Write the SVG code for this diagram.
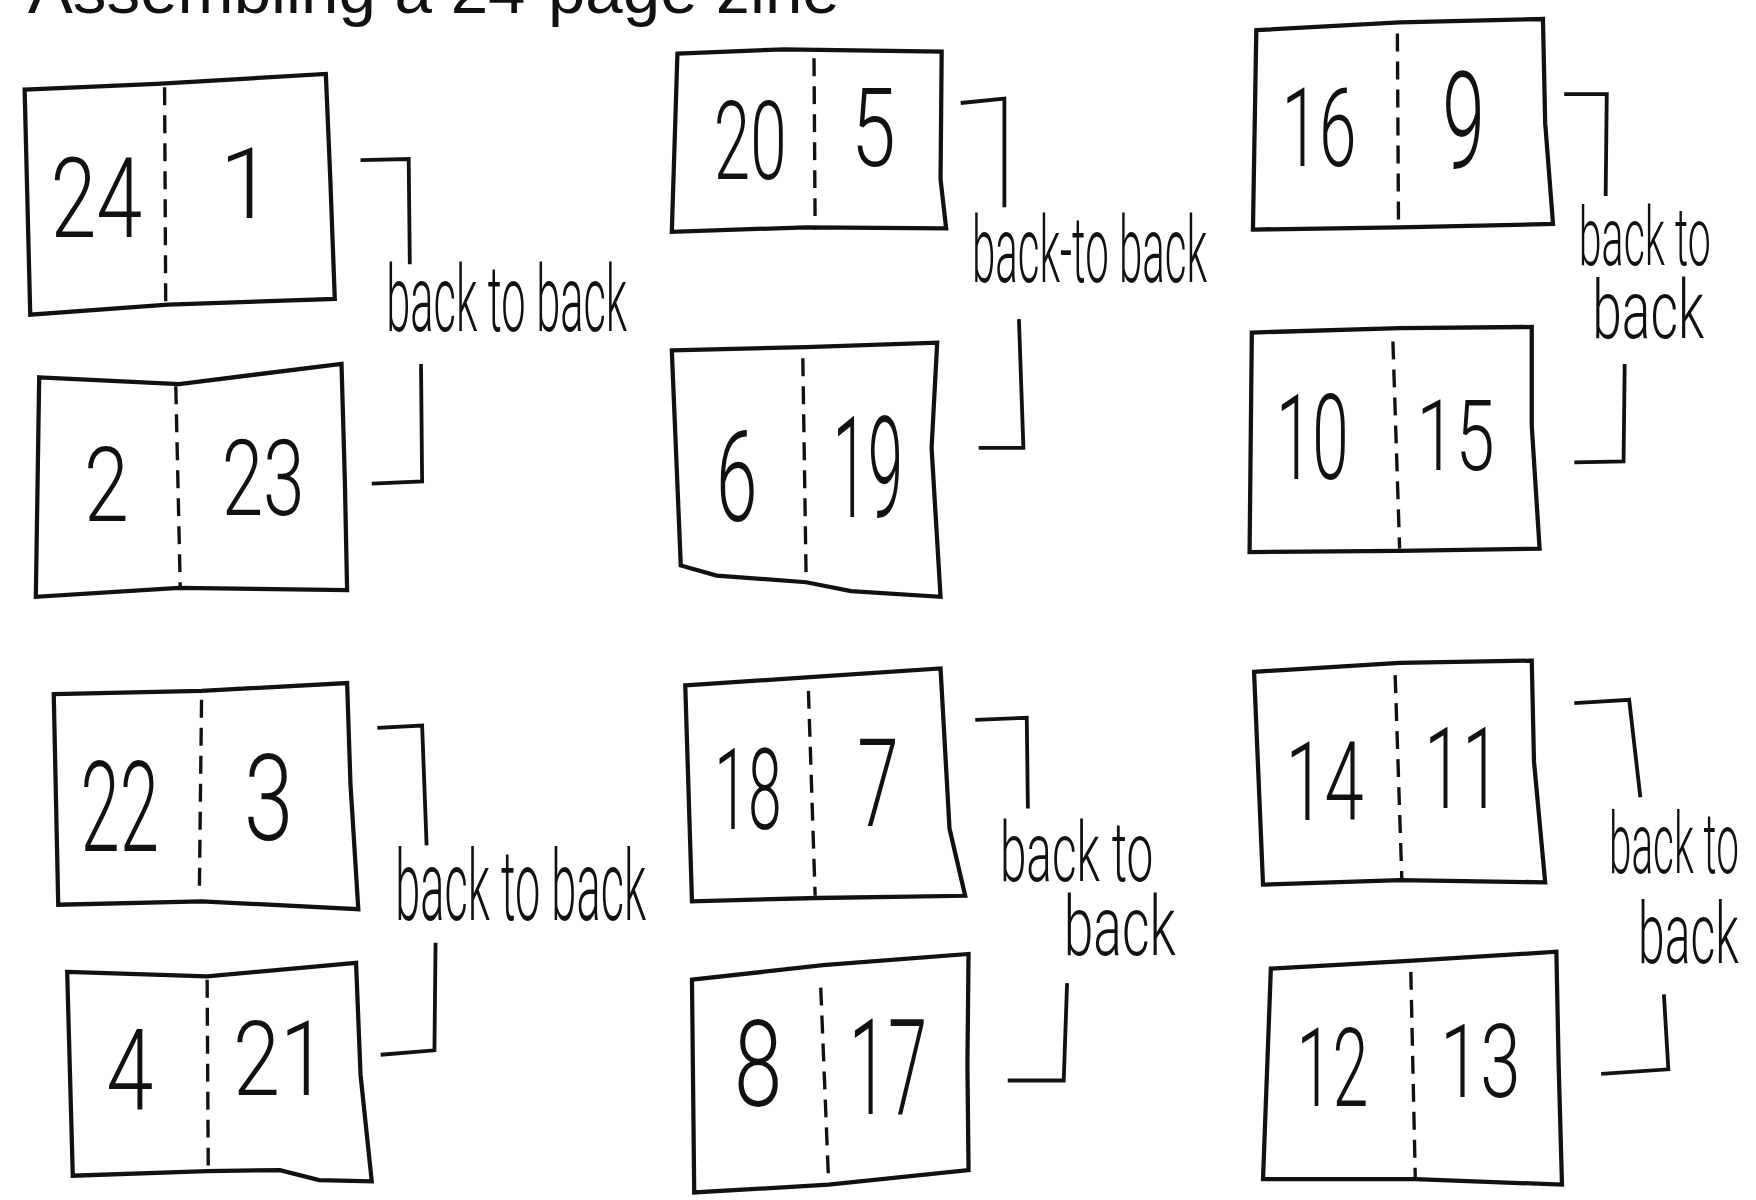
<svg xmlns="http://www.w3.org/2000/svg" width="1756" height="1200" viewBox="0 0 1756 1200">
<style>
.sheet{fill:#fff;stroke:#111;stroke-width:3.8;stroke-linejoin:miter}
.fold{fill:none;stroke:#111;stroke-width:3;stroke-dasharray:16 9}
.num{font-family:Roboto,"Liberation Sans",sans-serif;font-weight:300;fill:#111;text-anchor:middle}
.lbl{font-family:Roboto,"Liberation Sans",sans-serif;font-weight:300;fill:#111}
.br{fill:none;stroke:#111;stroke-width:3.4}
.title{font-family:"Liberation Sans",Arial,sans-serif;fill:#111}
</style>
<rect x="0" y="0" width="1756" height="1200" fill="#fff"/>
<g transform="scale(1.1197)">
<text class="title" x="25" y="12" font-size="60" textLength="725" lengthAdjust="spacingAndGlyphs">Assembling a 24-page zine</text>

<g id="sheet-24-1">
<path class="sheet" d="M22,80 L140,75 L291,66 L295,160 L299,267 L150,272 L27,281 Z"/>
<path class="fold" d="M147,78 L148,272"/>
<text class="num" x="86" y="212" font-size="100" textLength="82" lengthAdjust="spacingAndGlyphs">24</text>
<text class="num" x="220" y="195" font-size="88" textLength="48" lengthAdjust="spacingAndGlyphs">1</text>
</g>
<g id="sheet-2-23">
<path class="sheet" d="M35,337 L160,343 L305,325 L308,430 L310,527 L160,525 L32,533 Z"/>
<path class="fold" d="M157,345 L161,525"/>
<text class="num" x="95" y="465" font-size="92" textLength="40" lengthAdjust="spacingAndGlyphs">2</text>
<text class="num" x="235" y="460" font-size="94" textLength="74" lengthAdjust="spacingAndGlyphs">23</text>
</g>
<g id="sheet-20-5">
<path class="sheet" d="M605,48 L700,44 L841,46 L840,160 L845,204 L720,203 L600,207 Z"/>
<path class="fold" d="M727,52 L728,205"/>
<text class="num" x="670" y="160" font-size="98" textLength="65" lengthAdjust="spacingAndGlyphs">20</text>
<text class="num" x="780" y="148" font-size="98" textLength="40" lengthAdjust="spacingAndGlyphs">5</text>
</g>
<g id="sheet-6-19">
<path class="sheet" d="M600,313 L720,310 L837,306 L832,400 L840,533 L760,528 L720,520 L640,514 L608,505 Z"/>
<path class="fold" d="M717,320 L720,520"/>
<text class="num" x="658" y="465" font-size="112" textLength="37" lengthAdjust="spacingAndGlyphs">6</text>
<text class="num" x="775" y="462" font-size="126" textLength="63" lengthAdjust="spacingAndGlyphs">19</text>
</g>
<g id="sheet-16-9">
<path class="sheet" d="M1122,27 L1250,20 L1378,17 L1380,110 L1387,200 L1250,203 L1119,205 Z"/>
<path class="fold" d="M1248,30 L1249,203"/>
<text class="num" x="1178" y="148" font-size="98" textLength="67" lengthAdjust="spacingAndGlyphs">16</text>
<text class="num" x="1307" y="150" font-size="121" textLength="38" lengthAdjust="spacingAndGlyphs">9</text>
</g>
<g id="sheet-10-15">
<path class="sheet" d="M1118,297 L1250,293 L1368,292 L1368,380 L1375,490 L1250,492 L1116,493 Z"/>
<path class="fold" d="M1244,305 L1250,490"/>
<text class="num" x="1172" y="428" font-size="106" textLength="65" lengthAdjust="spacingAndGlyphs">10</text>
<text class="num" x="1300" y="420" font-size="88" textLength="70" lengthAdjust="spacingAndGlyphs">15</text>
</g>
<g id="sheet-22-3">
<path class="sheet" d="M48,620 L180,617 L310,610 L313,700 L320,812 L180,805 L52,808 Z"/>
<path class="fold" d="M180,625 L178,800"/>
<text class="num" x="107" y="760" font-size="112" textLength="70" lengthAdjust="spacingAndGlyphs">22</text>
<text class="num" x="240" y="750" font-size="107" textLength="44" lengthAdjust="spacingAndGlyphs">3</text>
</g>
<g id="sheet-4-21">
<path class="sheet" d="M60,868 L185,872 L318,860 L322,960 L332,1055 L285,1054 L250,1045 L185,1046 L65,1050 Z"/>
<path class="fold" d="M185,875 L186,1045"/>
<text class="num" x="116" y="990" font-size="101" textLength="42" lengthAdjust="spacingAndGlyphs">4</text>
<text class="num" x="250" y="978" font-size="93" textLength="84" lengthAdjust="spacingAndGlyphs">21</text>
</g>
<g id="sheet-18-7">
<path class="sheet" d="M612,612 L720,605 L840,597 L848,740 L862,800 L730,802 L618,805 Z"/>
<path class="fold" d="M722,617 L728,800"/>
<text class="num" x="668" y="740" font-size="101" textLength="60" lengthAdjust="spacingAndGlyphs">18</text>
<text class="num" x="784" y="738" font-size="110" textLength="37" lengthAdjust="spacingAndGlyphs">7</text>
</g>
<g id="sheet-8-17">
<path class="sheet" d="M618,875 L735,862 L865,852 L864,950 L865,1045 L740,1058 L620,1065 Z"/>
<path class="fold" d="M733,882 L740,1055"/>
<text class="num" x="677" y="988" font-size="107" textLength="43" lengthAdjust="spacingAndGlyphs">8</text>
<text class="num" x="793" y="995" font-size="120" textLength="70" lengthAdjust="spacingAndGlyphs">17</text>
</g>
<g id="sheet-14-11">
<path class="sheet" d="M1120,600 L1250,592 L1368,590 L1370,680 L1380,788 L1250,786 L1128,790 Z"/>
<path class="fold" d="M1246,603 L1252,786"/>
<text class="num" x="1183" y="732" font-size="98" textLength="70" lengthAdjust="spacingAndGlyphs">14</text>
<text class="num" x="1306" y="722" font-size="101" textLength="68" lengthAdjust="spacingAndGlyphs">11</text>
</g>
<g id="sheet-12-13">
<path class="sheet" d="M1135,865 L1262,858 L1390,850 L1392,950 L1395,1058 L1264,1053 L1128,1053 Z"/>
<path class="fold" d="M1260,868 L1264,1053"/>
<text class="num" x="1190" y="988" font-size="98" textLength="64" lengthAdjust="spacingAndGlyphs">12</text>
<text class="num" x="1322" y="980" font-size="91" textLength="72" lengthAdjust="spacingAndGlyphs">13</text>
</g>

<g id="connectors">
<path class="br" d="M322,143 L365,142 L366,236"/>
<path class="br" d="M376,325 L377,430 L332,432"/>
<path class="br" d="M858,92 L897,88 L897,185"/>
<path class="br" d="M910,285 L914,400 L874,400"/>
<path class="br" d="M1397,84 L1435,84 L1434,175"/>
<path class="br" d="M1451,325 L1450,412 L1406,413"/>
<path class="br" d="M337,650 L377,648 L381,755"/>
<path class="br" d="M389,842 L388,938 L340,942"/>
<path class="br" d="M871,643 L917,641 L918,722"/>
<path class="br" d="M953,878 L950,965 L900,965"/>
<path class="br" d="M1406,628 L1455,625 L1465,712"/>
<path class="br" d="M1486,888 L1490,955 L1430,959"/>
</g>

<g id="labels">
<text class="lbl" x="345" y="296" font-size="82" textLength="215" lengthAdjust="spacingAndGlyphs">back to back</text>
<text class="lbl" x="868" y="252" font-size="82" textLength="210" lengthAdjust="spacingAndGlyphs">back-to back</text>
<text class="lbl" x="1410" y="237" font-size="72" textLength="118" lengthAdjust="spacingAndGlyphs">back to</text>
<text class="lbl" x="1422" y="302" font-size="72" textLength="100" lengthAdjust="spacingAndGlyphs">back</text>
<text class="lbl" x="353" y="822" font-size="88" textLength="224" lengthAdjust="spacingAndGlyphs">back to back</text>
<text class="lbl" x="893" y="787" font-size="74" textLength="137" lengthAdjust="spacingAndGlyphs">back to</text>
<text class="lbl" x="950" y="853" font-size="74" textLength="100" lengthAdjust="spacingAndGlyphs">back</text>
<text class="lbl" x="1437" y="780" font-size="76" textLength="116" lengthAdjust="spacingAndGlyphs">back to</text>
<text class="lbl" x="1463" y="860" font-size="76" textLength="90" lengthAdjust="spacingAndGlyphs">back</text>
</g>
</g>
</svg>
